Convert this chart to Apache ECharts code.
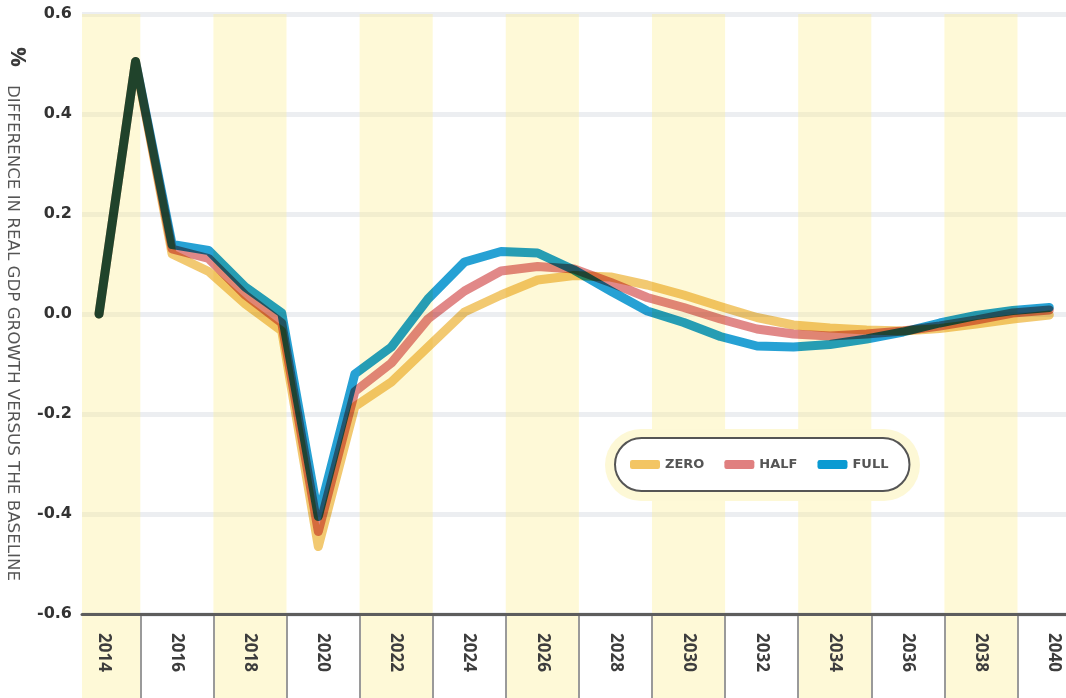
<!DOCTYPE html>
<html>
<head>
<meta charset="utf-8">
<script src="https://cdn.jsdelivr.net/npm/echarts@6/dist/echarts.min.js"></script>
<style>
  html, body { margin: 0; padding: 0; background: #ffffff; }
  #chart { width: 1066px; height: 698px; }
</style>
</head>
<body>
<div id="chart"></div>
<script>
const years = [2014, 2015, 2016, 2017, 2018, 2019, 2020, 2021, 2022, 2023, 2024, 2025, 2026, 2027,
               2028, 2029, 2030, 2031, 2032, 2033, 2034, 2035, 2036, 2037, 2038, 2039, 2040];
const zeroValues = [0, 0.505, 0.12, 0.085, 0.02, -0.034, -0.465, -0.185, -0.136, -0.066, 0.004, 0.038,
                    0.068, 0.077, 0.074, 0.058, 0.038, 0.015, -0.007, -0.022, -0.028, -0.032, -0.034,
                    -0.029, -0.02, -0.01, -0.002];
const halfValues = [0, 0.505, 0.13, 0.111, 0.038, -0.018, -0.435, -0.155, -0.098, -0.01, 0.046, 0.086,
                    0.095, 0.09, 0.063, 0.033, 0.013, -0.01, -0.03, -0.04, -0.044, -0.04, -0.034,
                    -0.024, -0.012, 0.002, 0.008];
const fullValues = [0, 0.505, 0.139, 0.127, 0.054, 0.002, -0.405, -0.12, -0.066, 0.03, 0.104, 0.125,
                    0.122, 0.088, 0.046, 0.006, -0.017, -0.045, -0.064, -0.066, -0.061, -0.05, -0.036,
                    -0.018, -0.003, 0.007, 0.013];
const seriesNames = ['ZERO', 'HALF', 'FULL'];
const tickYears = ['2014', '2016', '2018', '2020', '2022', '2024', '2026', '2028', '2030', '2032',
                   '2034', '2036', '2038', '2040'];
const bandCenters = [2014, 2018, 2022, 2026, 2030, 2034, 2038];
const yTitle = 'DIFFERENCE IN REAL GDP GROWTH VERSUS THE BASELINE';

const FONT = '"Open Sans", "DejaVu Sans", sans-serif';
const WIDE = '"DejaVu Sans", "Open Sans", sans-serif';
const lineColors = ['#f0c058', '#dc7373', '#0091cd'];
const legendColors = ['#f3c563', '#e07f7f', '#0a9ad2'];

const dataMin = 2013.535, dataMax = 2040.457;
const bandShift = 0.13;
const bandMin = dataMin - bandShift, bandMax = dataMax - bandShift;

const bandAreas = bandCenters.map(c => [
  { xAxis: Math.max(c - 1, bandMin) },
  { xAxis: Math.min(c + 1, bandMax) }
]);
const separators = [];
bandCenters.forEach(c => {
  [c - 1, c + 1].forEach(e => { if (e > bandMin && e < bandMax) separators.push({ xAxis: e }); });
});

const valueSets = [zeroValues, halfValues, fullValues];
const lineSeries = seriesNames.map((name, i) => ({
  name: name,
  type: 'line',
  xAxisIndex: 0,
  yAxisIndex: 0,
  data: years.map((y, k) => [y, valueSets[i][k]]),
  symbol: 'none',
  showSymbol: false,
  smooth: false,
  blendMode: 'multiply',
  z: 5,
  itemStyle: { color: legendColors[i] },
  lineStyle: { color: lineColors[i], width: 9, opacity: 0.85, cap: 'round', join: 'round' },
  emphasis: { disabled: true },
  silent: true
}));

const chart = echarts.init(document.getElementById('chart'), null, { renderer: 'canvas' });
chart.setOption({
  animation: false,
  backgroundColor: '#ffffff',
  textStyle: { fontFamily: FONT },
  grid: [
    { left: 82, right: 0, top: 14, height: 600 },
    { left: 82, right: 0, top: 616, bottom: 0 }
  ],
  xAxis: [
    { type: 'value', gridIndex: 0, min: dataMin, max: dataMax, z: 20,
      axisLine: { show: true, onZero: false, lineStyle: { color: '#5d5d5d', width: 3 } },
      axisTick: { show: false }, axisLabel: { show: false }, splitLine: { show: false } },
    { type: 'value', gridIndex: 0, min: bandMin, max: bandMax, position: 'bottom', z: 20,
      axisLine: { show: false }, axisTick: { show: false }, splitLine: { show: false },
      axisLabel: { show: true, customValues: tickYears.map(Number), rotate: -90, margin: 19,
        fontSize: 17, fontWeight: 'bold', color: '#3d3d3d', fontFamily: FONT,
        formatter: v => tickYears[tickYears.indexOf(String(Math.round(v)))] } },
    { type: 'value', gridIndex: 1, min: bandMin, max: bandMax, show: false }
  ],
  yAxis: [
    { type: 'value', gridIndex: 0, min: -0.6, max: 0.6, interval: 0.2,
      axisLine: { show: false }, axisTick: { show: false },
      axisLabel: { margin: 10, fontSize: 16, fontWeight: 'bold', color: '#333333', fontFamily: WIDE,
        formatter: v => (Math.abs(v) < 1e-9 ? 0 : v).toFixed(1) },
      splitLine: { show: true, lineStyle: { color: '#eceef1', width: 5 } } },
    { type: 'value', gridIndex: 0, min: -0.6, max: 0.6, show: false },
    { type: 'value', gridIndex: 1, min: 0, max: 1, show: false }
  ],
  legend: {
    data: seriesNames,
    left: 615, top: 438,
    orient: 'horizontal',
    icon: 'roundRect',
    itemWidth: 30, itemHeight: 9, itemGap: 20,
    padding: [20, 21, 20, 15],
    backgroundColor: '#ffffff',
    borderColor: '#555555', borderWidth: 2, borderRadius: 27,
    selectedMode: false,
    textStyle: { fontSize: 13, fontWeight: 'bold', color: '#555555', fontFamily: WIDE },
    z: 10
  },
  graphic: [
    { type: 'rect', left: 605, top: 429, z: 4, silent: true,
      shape: { width: 315, height: 72, r: 36 }, style: { fill: '#fdf8d6' } },
    { type: 'text', x: 17, y: 47, rotation: -Math.PI / 2, silent: true,
      style: { text: '%', fontSize: 22, fontWeight: 'bold', fill: '#3a3a3a', fontFamily: FONT,
        align: 'left', verticalAlign: 'middle' } },
    { type: 'text', x: 12, y: 85, rotation: -Math.PI / 2, silent: true,
      style: { text: yTitle, fontSize: 16.7, fill: '#555555', fontFamily: WIDE,
        align: 'left', verticalAlign: 'middle' } }
  ],
  series: [
    { name: 'bands', type: 'line', xAxisIndex: 1, yAxisIndex: 1, silent: true, z: 1,
      data: bandCenters.map(c => [c, 0]), symbol: 'none', lineStyle: { opacity: 0 },
      markArea: { silent: true, itemStyle: { color: 'rgba(252,240,150,0.38)' }, data: bandAreas } },
    { name: 'strip', type: 'line', xAxisIndex: 2, yAxisIndex: 2, silent: true, z: 1,
      data: bandCenters.map(c => [c, 0]), symbol: 'none', lineStyle: { opacity: 0 },
      markArea: { silent: true, itemStyle: { color: '#fef9d7' }, data: bandAreas },
      markLine: { silent: true, symbol: 'none', label: { show: false },
        lineStyle: { color: '#9a9a9a', width: 2, type: 'solid' }, data: separators } }
  ].concat(lineSeries)
});
</script>
</body>
</html>
